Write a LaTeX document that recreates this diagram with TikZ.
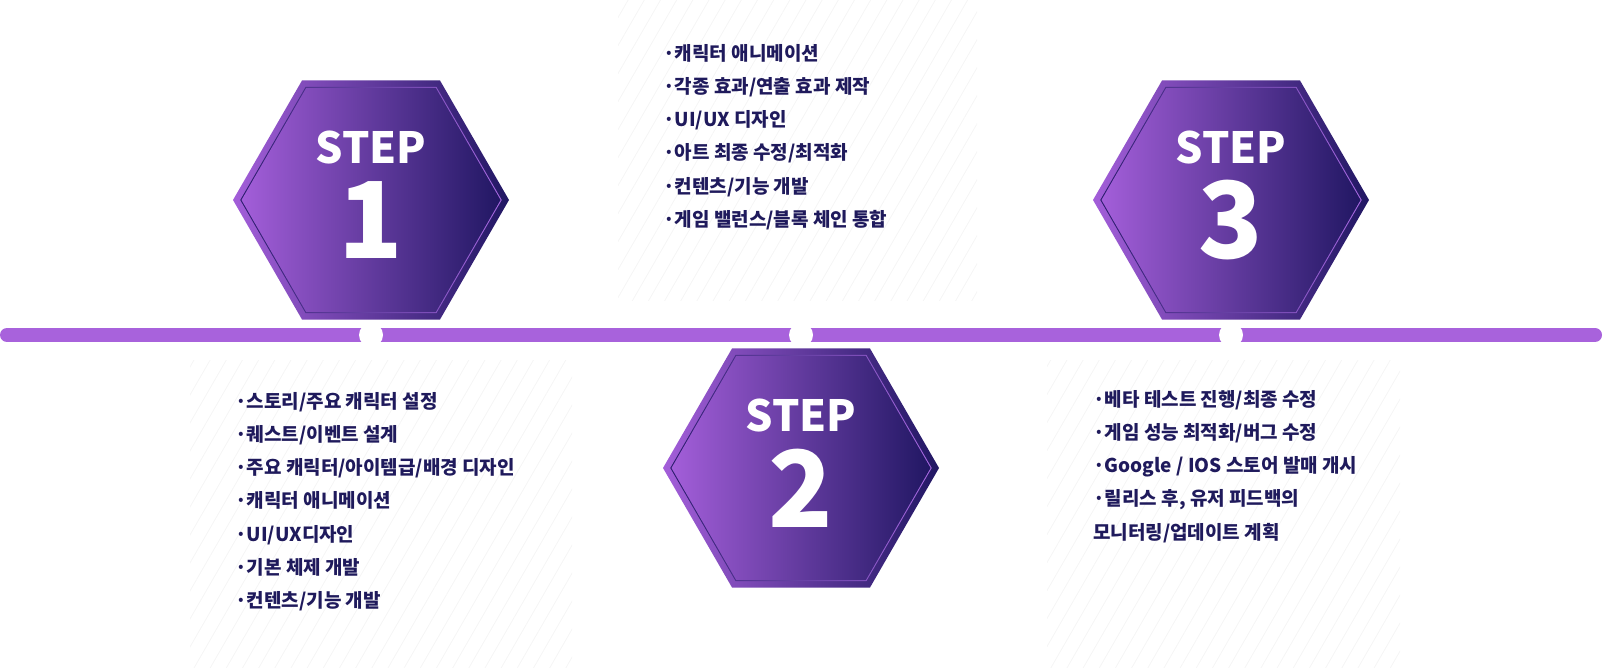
\documentclass[tikz,border=0pt]{standalone}
\usepackage{fontspec}
\setmainfont{Noto Sans CJK KR}
\usetikzlibrary{shapes.geometric}
\usetikzlibrary{patterns.meta}
\definecolor{hexL}{HTML}{A35ED9}
\definecolor{hexR}{HTML}{211763}
\definecolor{ringL}{HTML}{2A1C6C}
\definecolor{ringR}{HTML}{A96AE2}
\definecolor{barc}{HTML}{A862DC}
\definecolor{ink}{HTML}{1F1A5C}
\tikzset{
    hexouter/.style = {regular polygon, regular polygon sides=6, inner sep=0pt, minimum size=276pt, draw=none, shade, shading angle=0, left color=hexL, right color=hexR},
    hexring/.style = {hexouter, minimum size=261.4pt, left color=ringL, right color=ringR},
    hexinner/.style = {hexouter, minimum size=259pt},
    steptxt/.style = {text=white, inner sep=0pt, font=\bfseries\fontsize{43}{43}\selectfont},
    numtxt/.style = {text=white, inner sep=0pt, font=\bfseries\fontsize{106}{106}\selectfont},
    itemtxt/.style = {text=ink, inner sep=0pt, align=left, anchor=north west, font=\bfseries\fontsize{19}{33.2}\selectfont},
    dotnode/.style = {circle, fill=white, draw=none, minimum size=24pt, inner sep=0pt},
    baredge/.style = {draw=barc, line width=14pt, line cap=round},
    texture/.style = {pattern={Lines[angle=60,distance=14pt,line width=0.8pt]}, pattern color=black!4}
}

\begin{document}
\begin{tikzpicture}[x=1pt,y=-1pt]
\useasboundingbox (0,0) rectangle (1603,668);
% texture behind the lists
\fill[texture] (618,0) rectangle (977,300);
\fill[texture] (190,360) rectangle (572,668);
\fill[texture] (1047,360) rectangle (1400,668);
%
\coordinate (barL) at (7,335);
\coordinate (barR) at (1595,335);
\draw[baredge] (barL) -- (barR);
\node[dotnode] at (371,335) (d1) {};
\node[dotnode] at (801,335) (d2) {};
\node[dotnode] at (1231,335) (d3) {};
%
\node[hexouter] at (371,200) (h1) {};
\node[hexring] at (h1.center) {};
\node[hexinner] at (h1.center) {};
\node[steptxt] at ([yshift=52pt]h1.center) (s1) {STEP};
\node[numtxt] at ([yshift=-20pt]h1.center) (n1) {1};
%
\node[hexouter] at (801,468) (h2) {};
\node[hexring] at (h2.center) {};
\node[hexinner] at (h2.center) {};
\node[steptxt] at ([yshift=52pt]h2.center) (s2) {STEP};
\node[numtxt] at ([yshift=-20pt]h2.center) (n2) {2};
%
\node[hexouter] at (1231,200) (h3) {};
\node[hexring] at (h3.center) {};
\node[hexinner] at (h3.center) {};
\node[steptxt] at ([yshift=52pt]h3.center) (s3) {STEP};
\node[numtxt] at ([yshift=-20pt]h3.center) (n3) {3};
%
\node[itemtxt] at (235,392) (list1) {·스토리/주요 캐릭터 설정\\·퀘스트/이벤트 설계\\·주요 캐릭터/아이템급/배경 디자인\\·캐릭터 애니메이션\\·UI/UX디자인\\·기본 체제 개발\\·컨텐츠/기능 개발};
\node[itemtxt] at (663,44) (list2) {·캐릭터 애니메이션\\·각종 효과/연출 효과 제작\\·UI/UX 디자인\\·아트 최종 수정/최적화\\·컨텐츠/기능 개발\\·게임 밸런스/블록 체인 통합};
\node[itemtxt] at (1093,390) (list3) {·베타 테스트 진행/최종 수정\\·게임 성능 최적화/버그 수정\\·Google / IOS 스토어 발매 개시\\·릴리스 후, 유저 피드백의\\모니터링/업데이트 계획};
\end{tikzpicture}
\end{document}
